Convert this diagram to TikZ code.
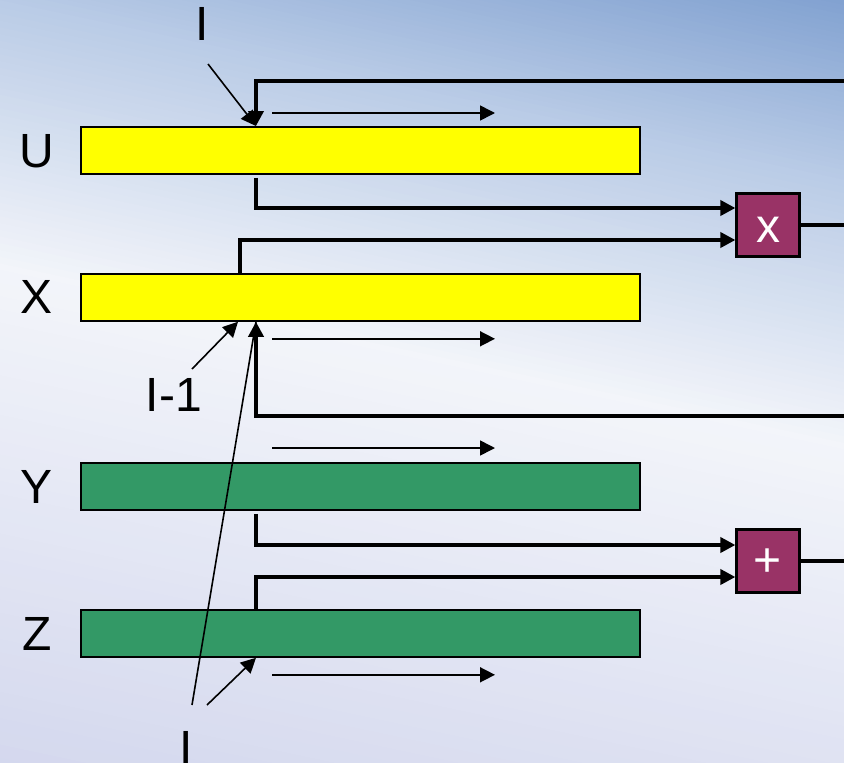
\documentclass[tikz,border=0pt]{standalone}
\usepackage{fontspec}
\setmainfont{Liberation Sans}
\usetikzlibrary{arrows.meta}

\definecolor{barYellow}{HTML}{FFFF00}
\definecolor{barGreen}{HTML}{339966}
\definecolor{opFill}{HTML}{993366}
\definecolor{bgLav}{RGB}{210,214,237}
\definecolor{bgWht}{RGB}{243,245,250}
\definecolor{bgBlA}{RGB}{185,203,230}
\definecolor{bgBlB}{RGB}{125,158,207}

\tikzset{
  bar/.style={draw=black, line width=1.8pt, minimum width=559pt, minimum height=47pt,
              inner sep=0pt, anchor=north west},
  opbox/.style={draw=black, line width=2.2pt, fill=opFill, minimum size=63pt, inner sep=0pt},
  lbl/.style={inner sep=0pt, font=\fontsize{48}{48}\selectfont},
  opsym/.style={inner sep=0pt, text=white, font=\fontsize{48}{48}\selectfont},
  thk/.style={line width=3.6pt},
  thn/.style={line width=1.6pt},
  arw/.style={-{Triangle[length=15pt,width=15pt]}},
}

\begin{document}
\begin{tikzpicture}[x=1pt,y=-1pt]
\useasboundingbox (0,0) rectangle (844,763);
\clip (0,0) rectangle (844,763);

% tilted background gradient: lavender -> white -> blue
\begin{scope}[x={(0.978pt,-0.208pt)}, y={(0.208pt,0.978pt)}]
  \foreach \a/\b/\ca/\cb in {-780/-264/bgLav/bgWht, -264/0/bgWht/bgBlA, 0/190/bgBlA/bgBlB} {
    \pgfmathsetmacro\stp{(\b-\a)/40}
    \foreach \i in {0,...,39} {
      \pgfmathsetmacro\sA{\a+\stp*\i}
      \pgfmathsetmacro\sB{\a+\stp*(\i+1)+1}
      \pgfmathtruncatemacro\pc{2.5*\i+1.25}
      \fill[\cb!\pc!\ca] (-60,\sA) -- (1060,\sA) -- (1060,\sB) -- (-60,\sB) -- cycle;
    }
  }
\end{scope}

% arrays
\node[bar, fill=barYellow] (U) at (80,126) {};
\node[bar, fill=barYellow] (X) at (80,273) {};
\node[bar, fill=barGreen]  (Y) at (80,462) {};
\node[bar, fill=barGreen]  (Z) at (80,609) {};

\node[lbl] (lU) at (37,151) {U};
\node[lbl] (lX) at (37,297) {X};
\node[lbl] (lY) at (37,487) {Y};
\node[lbl] (lZ) at (37,634) {Z};

% operators
\node[opbox] (mul) at (768,225) {};
\node[opsym] (mulsym) at (768,230) {x};
\node[opbox] (add) at (768,561) {};
\node[opsym] (addsym) at (768,563) {+};

% columns and free ends
\coordinate (cA) at (256,0);
\coordinate (cB) at (240,0);
\coordinate (cC) at (238,0);
\coordinate (edge) at (844,0);
\coordinate (fbU) at (844,81);
\coordinate (fbX) at (844,416);

% index labels
\node[lbl] (iTop) at (202,24) {I};
\node[lbl] (iPrev) at (174,395) {I-1};
\node[lbl] (iBot) at (186,748) {I};
\coordinate (iTopTail) at (208,64);
\coordinate (iPrevTail) at (192,369);
\coordinate (iBotTailA) at (192,705);
\coordinate (iBotTailB) at (207,705);

% data flow
\draw[thk, arw] (fbU) -| (cA |- U.north);
\draw[thk, arw, shorten <=3pt] (cA |- U.south) |- ([yshift=17pt]mul.west);
\draw[thk, arw] (cB |- X.north) |- ([yshift=-15pt]mul.west);
\draw[thk] (mul.east) -- (mul.east -| edge);
\draw[thk, arw] (fbX) -| (cA |- X.south);
\draw[thk, arw, shorten <=3pt] (cA |- Y.south) |- ([yshift=16pt]add.west);
\draw[thk, arw] (cA |- Z.north) |- ([yshift=-16pt]add.west);
\draw[thk] (add.east) -- (add.east -| edge);

% scan direction
\draw[thn, arw] ([xshift=192pt,yshift=13pt]U.north west) -- ++(223,0);
\draw[thn, arw] ([xshift=192pt,yshift=-17pt]X.south west) -- ++(223,0);
\draw[thn, arw] ([xshift=192pt,yshift=14pt]Y.north west) -- ++(223,0);
\draw[thn, arw] ([xshift=192pt,yshift=-17pt]Z.south west) -- ++(223,0);

% index pointers
\draw[thn, arw] (iTopTail) -- (cA |- U.north);
\draw[thn, arw] (iPrevTail) -- (cC |- X.south);
\draw[thn] (iBotTailA) -- (cA |- X.south);
\draw[thn, arw] (iBotTailB) -- (cA |- Z.south);
\end{tikzpicture}
\end{document}
